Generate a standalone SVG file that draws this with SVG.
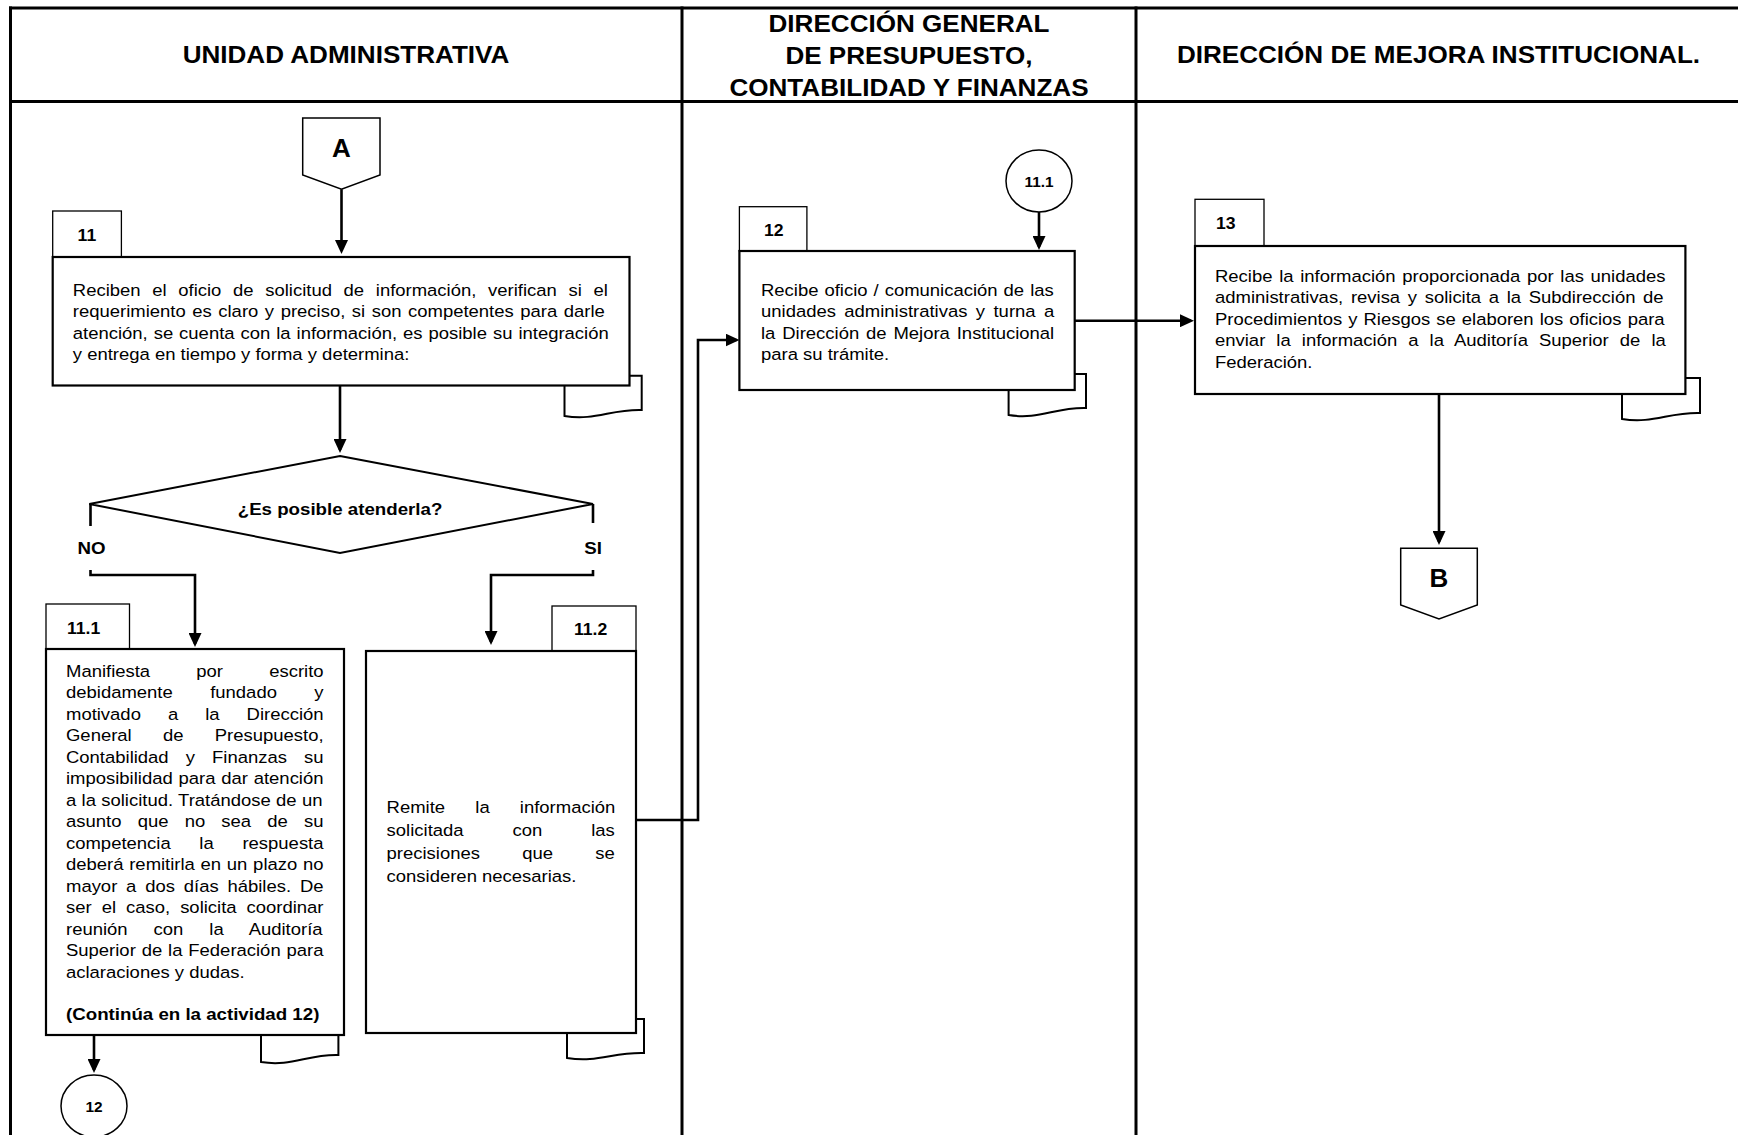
<svg xmlns="http://www.w3.org/2000/svg" width="1738" height="1135" viewBox="0 0 1738 1135">
<defs>
<style>
text{font-family:"Liberation Sans",Arial,sans-serif;fill:#000}
.t{font-size:16.8px}
.b{font-weight:bold;font-size:17px}
.h{font-size:23.7px;font-weight:bold}
.n{font-size:16px;font-weight:bold}
.c{font-size:14px;font-weight:bold}
.L{font-size:26px;font-weight:bold}
.box{fill:#fff;stroke:#000;stroke-width:2.2}
.tab{fill:#fff;stroke:#000;stroke-width:1.3}
.doc{fill:#fff;stroke:#000;stroke-width:2}
.thin{fill:#fff;stroke:#000;stroke-width:1.5}
.dia{fill:#fff;stroke:#000;stroke-width:2}
.ln{fill:none;stroke:#000;stroke-width:2.6}
.frame line{stroke:#000;stroke-width:3}
</style>
<marker id="ah" viewBox="0 0 14 13" refX="11" refY="6.5" markerWidth="14" markerHeight="13" markerUnits="userSpaceOnUse" orient="auto"><path d="M0,0 L14,6.5 L0,13 z" fill="#000"/></marker>
</defs>
<rect width="1738" height="1135" fill="#fff"/>

<g id="frame" class="frame">
<line x1="9" y1="8" x2="1738" y2="8"/>
<line x1="10.5" y1="6.5" x2="10.5" y2="1135"/>
<line x1="9" y1="101.5" x2="1738" y2="101.5"/>
<line x1="682" y1="6.5" x2="682" y2="1135"/>
<line x1="1136" y1="6.5" x2="1136" y2="1135"/>
</g>

<g id="lane-unidad"><text class="h" text-anchor="middle" transform="translate(346,63) scale(1.1,1)">UNIDAD ADMINISTRATIVA</text></g>
<g id="lane-dgpcf">
<text class="h" text-anchor="middle" transform="translate(909,32) scale(1.1,1)">DIRECCIÓN GENERAL</text>
<text class="h" text-anchor="middle" transform="translate(909,64) scale(1.1,1)">DE PRESUPUESTO,</text>
<text class="h" text-anchor="middle" transform="translate(909,96) scale(1.1,1)">CONTABILIDAD Y FINANZAS</text>
</g>
<g id="lane-dmi"><text class="h" text-anchor="middle" transform="translate(1438.5,63) scale(1.1,1)">DIRECCIÓN DE MEJORA INSTITUCIONAL.</text></g>

<g id="connectors">
<line class="ln" x1="341.5" y1="189.3" x2="341.5" y2="251" marker-end="url(#ah)"/>
<line class="ln" x1="340" y1="385.5" x2="340" y2="450" marker-end="url(#ah)"/>
<line class="ln" x1="90.5" y1="504" x2="90.5" y2="526"/>
<path class="ln" d="M90.5,570 V575 H195 V644" marker-end="url(#ah)"/>
<line class="ln" x1="593" y1="504" x2="593" y2="523"/>
<path class="ln" d="M593,570 V575 H491 V642" marker-end="url(#ah)"/>
<path class="ln" d="M636,820 H698 V340 H736.5" marker-end="url(#ah)"/>
<line class="ln" x1="1039" y1="212" x2="1039" y2="247" marker-end="url(#ah)"/>
<line class="ln" x1="1074.7" y1="320.7" x2="1191" y2="320.7" marker-end="url(#ah)"/>
<line class="ln" x1="94" y1="1035" x2="94" y2="1070" marker-end="url(#ah)"/>
<line class="ln" x1="1439" y1="394" x2="1439" y2="542" marker-end="url(#ah)"/>
</g>

<g id="offpage-A">
<polygon class="thin" points="302.7,118 380,118 380,175 341.5,189.3 302.7,175"/>
<text class="L" x="341.5" y="157" text-anchor="middle">A</text>
</g>

<g id="n11">
<rect class="tab" x="52.7" y="211" width="68.7" height="46"/>
<path class="doc" d="M564.5,375.7 H641.7 V410 C610.8,409 595.4,421 564.5,416 Z"/>
<rect class="box" x="52.7" y="257" width="576.8" height="128.5"/>
<text class="n" transform="translate(77.6,241) scale(1.1,1)">11</text>
<g transform="translate(72.8,0) scale(1.1,1)">
<text class="t" y="296" style="word-spacing:5.95px">Reciben el oficio de solicitud de información, verifican si el</text>
<text class="t" y="317.5" style="word-spacing:1.3px">requerimiento es claro y preciso, si son competentes para darle</text>
<text class="t" y="339" style="word-spacing:0.75px">atención, se cuenta con la información, es posible su integración</text>
<text class="t" y="360.5">y entrega en tiempo y forma y determina:</text>
</g>
</g>

<g id="decision">
<polygon class="dia" points="340,456 593,504 340,553 89.3,504"/>
<text class="b" text-anchor="middle" transform="translate(340,515) scale(1.1,1)">¿Es posible atenderla?</text>
<text class="b" text-anchor="middle" transform="translate(91.5,554) scale(1.1,1)">NO</text>
<text class="b" text-anchor="middle" transform="translate(593,554) scale(1.1,1)">SI</text>
</g>

<g id="n11-1">
<rect class="tab" x="46" y="604" width="83.5" height="45"/>
<path class="doc" d="M261,1020 H338.4 V1055 C307.4,1054 292,1067 261,1062 Z"/>
<rect class="box" x="46" y="649" width="298" height="386"/>
<text class="n" transform="translate(67,634) scale(1.1,1)">11.1</text>
<g transform="translate(66,0) scale(1.1,1)">
<text class="t" y="677" style="word-spacing:37.33px">Manifiesta por escrito</text>
<text class="t" y="698.5" style="word-spacing:29.38px">debidamente fundado y</text>
<text class="t" y="720" style="word-spacing:19.9px">motivado a la Dirección</text>
<text class="t" y="741.5" style="word-spacing:23.78px">General de Presupuesto,</text>
<text class="t" y="763" style="word-spacing:10.86px">Contabilidad y Finanzas su</text>
<text class="t" y="784.5" style="word-spacing:0.6px">imposibilidad para dar atención</text>
<text class="t" y="806" style="word-spacing:0.17px">a la solicitud. Tratándose de un</text>
<text class="t" y="827.5" style="word-spacing:10.07px">asunto que no sea de su</text>
<text class="t" y="849" style="word-spacing:21.43px">competencia la respuesta</text>
<text class="t" y="870.5" style="word-spacing:0.55px">deberá remitirla en un plazo no</text>
<text class="t" y="892" style="word-spacing:3.35px">mayor a dos días hábiles. De</text>
<text class="t" y="913.5" style="word-spacing:4.43px">ser el caso, solicita coordinar</text>
<text class="t" y="935" style="word-spacing:18.96px">reunión con la Auditoría</text>
<text class="t" y="956.5" style="word-spacing:0.68px">Superior de la Federación para</text>
<text class="t" y="978">aclaraciones y dudas.</text>
<text class="b" y="1020">(Continúa en la actividad 12)</text>
</g>
</g>

<g id="n11-2">
<rect class="tab" x="552" y="606" width="84" height="45"/>
<path class="doc" d="M567,1019 H644 V1053 C613.2,1052 597.8,1063 567,1058 Z"/>
<rect class="box" x="366" y="651" width="270" height="382"/>
<text class="n" transform="translate(574,635) scale(1.1,1)">11.2</text>
<g transform="translate(386.6,0) scale(1.1,1)">
<text class="t" y="813" style="word-spacing:22.8px">Remite la información</text>
<text class="t" y="836" style="word-spacing:39.83px">solicitada con las</text>
<text class="t" y="859" style="word-spacing:33.78px">precisiones que se</text>
<text class="t" y="882">consideren necesarias.</text>
</g>
</g>

<g id="conn-12">
<ellipse class="thin" cx="94" cy="1106" rx="33" ry="31"/>
<text class="c" text-anchor="middle" transform="translate(94,1112) scale(1.1,1)">12</text>
</g>

<g id="conn-11-1">
<ellipse class="thin" cx="1039" cy="181" rx="33" ry="31"/>
<text class="c" text-anchor="middle" transform="translate(1039,187) scale(1.1,1)">11.1</text>
</g>

<g id="n12">
<rect class="tab" x="739.4" y="206.7" width="67.5" height="44.3"/>
<path class="doc" d="M1008.6,374 H1086 V408 C1055,407 1039.6,420 1008.6,415 Z"/>
<rect class="box" x="739.4" y="251" width="335.3" height="139"/>
<text class="n" transform="translate(764,236) scale(1.1,1)">12</text>
<g transform="translate(761,0) scale(1.1,1)">
<text class="t" y="296" style="word-spacing:0.8px">Recibe oficio / comunicación de las</text>
<text class="t" y="317.5" style="word-spacing:2.98px">unidades administrativas y turna a</text>
<text class="t" y="339" style="word-spacing:1.58px">la Dirección de Mejora Institucional</text>
<text class="t" y="360.5">para su trámite.</text>
</g>
</g>

<g id="n13">
<rect class="tab" x="1195" y="199.3" width="69" height="46.7"/>
<path class="doc" d="M1622,378 H1700 V413 C1668.8,412 1653.2,424 1622,419 Z"/>
<rect class="box" x="1195" y="246" width="490.4" height="148"/>
<text class="n" transform="translate(1216,228.5) scale(1.1,1)">13</text>
<g transform="translate(1215,0) scale(1.1,1)">
<text class="t" y="282" style="word-spacing:1.4px">Recibe la información proporcionada por las unidades</text>
<text class="t" y="303.5" style="word-spacing:2.3px">administrativas, revisa y solicita a la Subdirección de</text>
<text class="t" y="325" style="word-spacing:0.82px">Procedimientos y Riesgos se elaboren los oficios para</text>
<text class="t" y="346.5" style="word-spacing:5.4px">enviar la información a la Auditoría Superior de la</text>
<text class="t" y="368">Federación.</text>
</g>
</g>

<g id="offpage-B">
<polygon class="thin" points="1400.7,548.3 1477.3,548.3 1477.3,605 1439,619 1400.7,605"/>
<text class="L" x="1439" y="586.7" text-anchor="middle">B</text>
</g>
</svg>
